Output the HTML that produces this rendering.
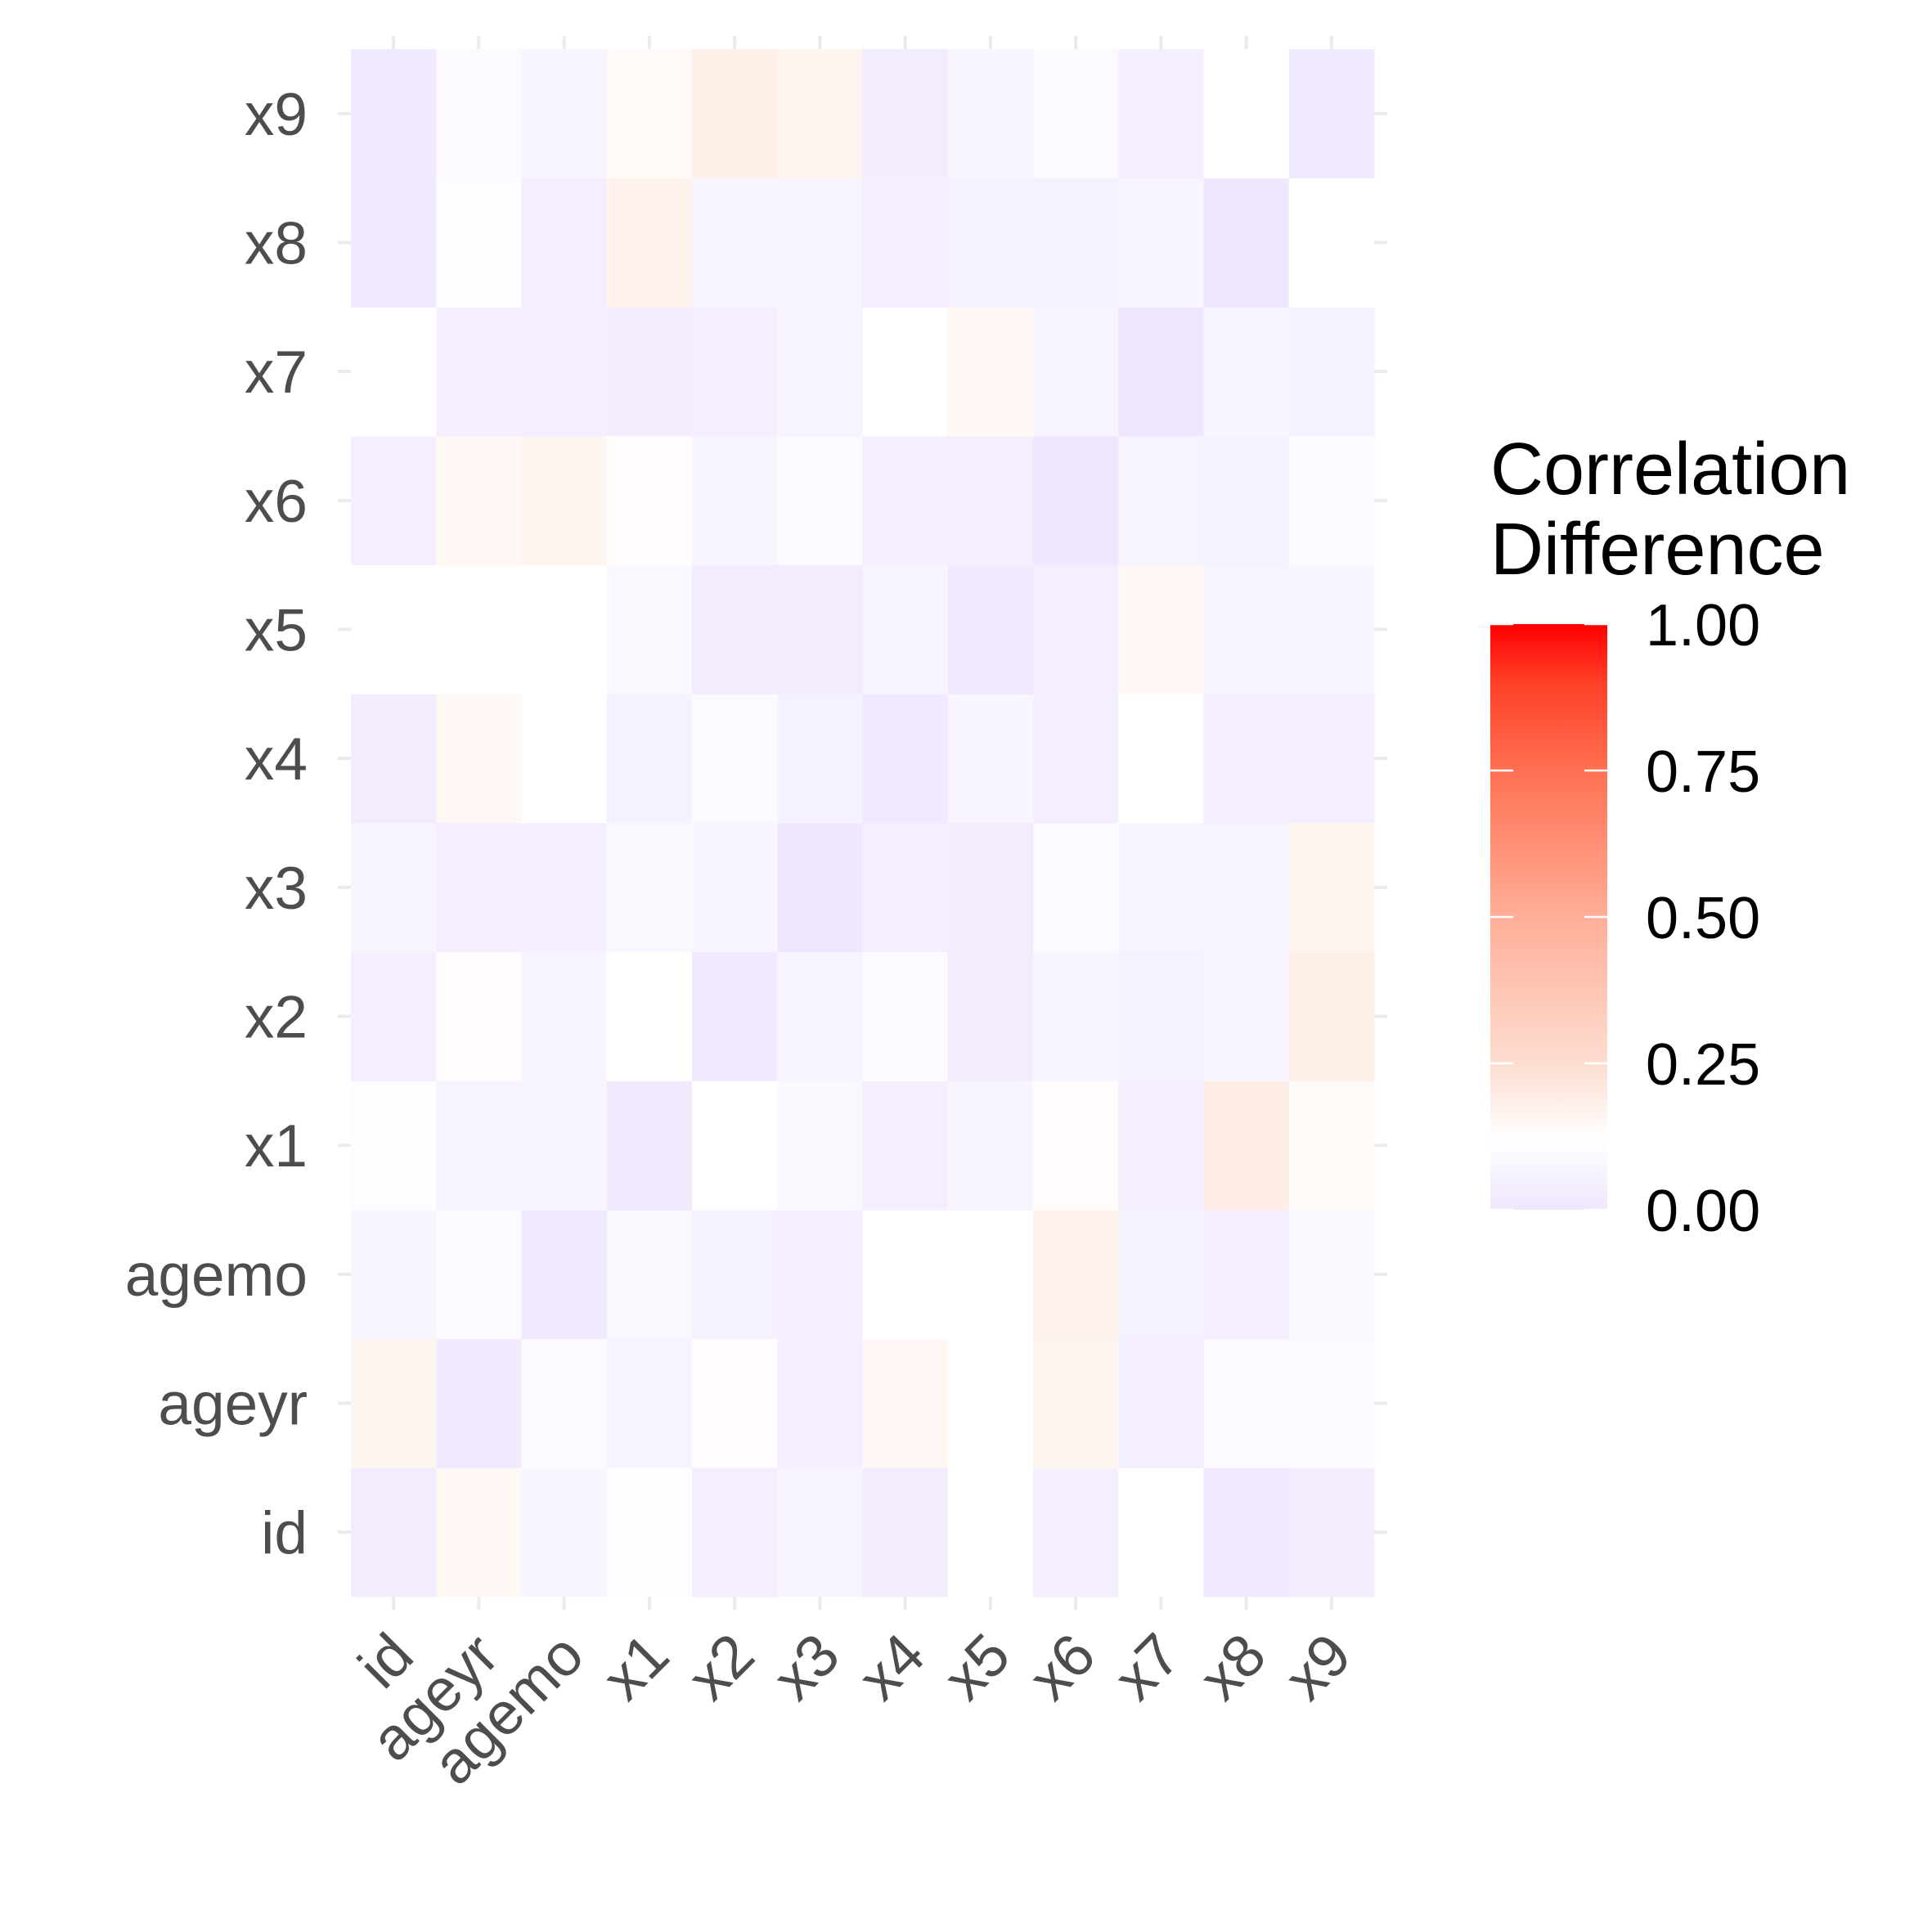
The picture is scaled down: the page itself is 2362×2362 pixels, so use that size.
<!DOCTYPE html>
<html><head><meta charset="utf-8"><style>
html,body{margin:0;padding:0;background:#fff;}
svg{display:block;font-family:"Liberation Sans",sans-serif;}
</style></head><body>
<svg id="chart" width="2362" height="2362" viewBox="0 0 2362 2362" xmlns="http://www.w3.org/2000/svg">
<g id="grid"></g>
<g id="tiles"></g>
<g id="yaxis"></g>
<g id="xaxis"></g>
<g id="legend">
<defs><linearGradient id="cg" x1="0" y1="1" x2="0" y2="0">
<stop offset="0" stop-color="#EEE6FE"/><stop offset="0.12" stop-color="#FFFFFF"/><stop offset="0.25" stop-color="#FDDDD0"/><stop offset="0.5" stop-color="#FFAE98"/><stop offset="0.75" stop-color="#FF7052"/><stop offset="0.9" stop-color="#FF4028"/><stop offset="1" stop-color="#FF0000"/></linearGradient></defs>
<text x="1822" y="604" font-size="90" fill="#000">Correlation</text>
<text x="1822" y="702" font-size="90" fill="#000">Difference</text>
<rect x="1822" y="763" width="143" height="716" fill="url(#cg)"/>
</g>
</svg>
<script>
const cats = ["id","ageyr","agemo","x1","x2","x3","x4","x5","x6","x7","x8","x9"];
const legendTicks = [0, 0.25, 0.5, 0.75, 1];
const legendLabels = ["0.00","0.25","0.50","0.75","1.00"];
// rows from x9 (top) down to id (bottom); columns id..x9
const rowX9 = [0.03,0.10,0.08,0.14,0.18,0.16,0.04,0.08,0.10,0.05,0.12,0.03];
const rowX8 = [0.03,0.11,0.05,0.17,0.08,0.07,0.05,0.06,0.06,0.08,0.02,0.12];
const rowX7 = [0.12,0.05,0.05,0.04,0.05,0.07,0.12,0.15,0.07,0.02,0.08,0.06];
const rowX6 = [0.05,0.15,0.16,0.13,0.08,0.10,0.05,0.05,0.02,0.07,0.06,0.10];
const rowX5 = [0.12,0.12,0.12,0.09,0.04,0.04,0.08,0.03,0.05,0.15,0.07,0.08];
const rowX4 = [0.04,0.15,0.12,0.06,0.10,0.06,0.03,0.08,0.05,0.12,0.05,0.05];
const rowX3 = [0.08,0.05,0.05,0.09,0.08,0.02,0.05,0.04,0.10,0.07,0.07,0.16];
const rowX2 = [0.05,0.13,0.07,0.12,0.03,0.07,0.10,0.04,0.08,0.06,0.08,0.18];
const rowX1 = [0.11,0.07,0.08,0.03,0.12,0.09,0.05,0.08,0.13,0.05,0.19,0.14];
const rowAgemo = [0.08,0.10,0.03,0.09,0.06,0.05,0.12,0.12,0.17,0.06,0.05,0.09];
const rowAgeyr = [0.16,0.03,0.10,0.07,0.13,0.05,0.15,0.12,0.16,0.05,0.10,0.10];
const rowId = [0.04,0.15,0.08,0.11,0.05,0.07,0.04,0.12,0.05,0.12,0.03,0.04];
const rowsByCat = {x9:rowX9,x8:rowX8,x7:rowX7,x6:rowX6,x5:rowX5,x4:rowX4,x3:rowX3,x2:rowX2,x1:rowX1,agemo:rowAgemo,ageyr:rowAgeyr,id:rowId};

const NS="http://www.w3.org/2000/svg";
const X0=429,X1=1680,Y0=60,Y1=1952;
const cw=(X1-X0)/cats.length, ch=(Y1-Y0)/cats.length;
const xPos=i=>X0+cw*i, yPos=i=>Y1-ch*(i+1);
const stops=[[0,[236,226,254]],[0.12,[255,255,255]],[0.25,[253,221,208]],[0.5,[255,174,152]],[0.75,[255,112,82]],[0.9,[255,64,40]],[1,[255,0,0]]];
function color(v){v=Math.max(-0.2,Math.min(1,v));
 if(v<=0){const t=v/0.12;const a=stops[0][1],b=stops[1][1];return "rgb("+a.map((c,k)=>Math.round(c+(b[k]-c)*t)).join(",")+")";}
 for(let k=0;k<stops.length-1;k++){const [p,a]=stops[k],[q,b]=stops[k+1];if(v>=p&&v<=q){const t=(v-p)/(q-p);return "rgb("+a.map((c,j)=>Math.round(c+(b[j]-c)*t)).join(",")+")";}}
 return "rgb(255,0,0)";}
function mk(tag,attrs,parent){const e=document.createElementNS(NS,tag);for(const k in attrs)e.setAttribute(k,attrs[k]);parent.appendChild(e);return e;}
const grid=document.getElementById('grid'),tiles=document.getElementById('tiles'),ya=document.getElementById('yaxis'),xa=document.getElementById('xaxis'),lg=document.getElementById('legend');
cats.forEach((c,i)=>{
 const cx=xPos(i)+cw/2, cy=yPos(i)+ch/2;
 let l=mk('line',{x1:cx,x2:cx,y1:Y0-16,y2:Y1+16,stroke:'#EBEBEB','stroke-width':4},grid);
 
 
 l=mk('line',{x1:X0-16,x2:X1+16,y1:cy,y2:cy,stroke:'#EBEBEB','stroke-width':4},grid);
 
 
 let t=mk('text',{x:376,y:cy+26,'text-anchor':'end','font-size':73,fill:'#4D4D4D'},ya);t.textContent=c;
 
 
 t=mk('text',{x:0,y:0,'text-anchor':'end','font-size':73,fill:'#4D4D4D',transform:`translate(${cx+28},${2028}) rotate(-45)`},xa);t.textContent=c;
 
 
});
cats.forEach((rc,ri)=>{const row=rowsByCat[rc];row.forEach((v,ci)=>{
 const r=mk('rect',{x:xPos(ci),y:yPos(ri),width:cw+0.5,height:ch+0.5,fill:color(v)},tiles);
 
 
});});
const LB0=1479,LB1=763;
legendTicks.forEach((v,i)=>{const y=LB0+(LB1-LB0)*v;
 let l=mk('line',{x1:1822,x2:1850,y1:y,y2:y,stroke:'#fff','stroke-width':2.5},lg);
 
 
 l=mk('line',{x1:1937,x2:1965,y1:y,y2:y,stroke:'#fff','stroke-width':2.5},lg);
 
 
 const t=mk('text',{x:2012,y:y+26,'font-size':72,fill:'#000'},lg);t.textContent=legendLabels[i];
 
 
});
</script>
</body></html>
